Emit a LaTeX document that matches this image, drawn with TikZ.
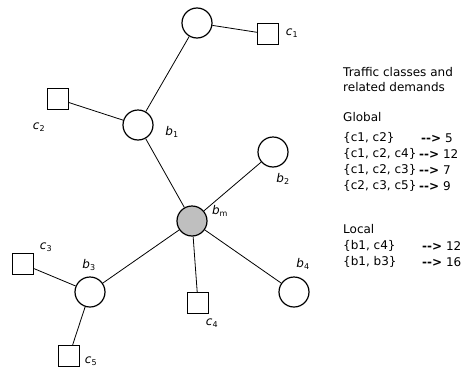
\documentclass[tikz,border=0pt]{standalone}
\usepackage{fontspec}
\setmainfont{DejaVu Sans}

\newcommand{\lab}[2]{\textit{#1}\textsubscript{#2}}

\begin{document}
\begin{tikzpicture}[x=1pt,y=-1pt,
    bnode/.style={draw,line width=1.2pt,circle,minimum size=30pt,inner sep=0pt},
    cnode/.style={draw,line width=1.2pt,rectangle,minimum size=21pt,inner sep=0pt},
    link/.style={line width=0.8pt},
    lbl/.style={font=\fontsize{12}{14}\selectfont,inner sep=0pt},
    txt/.style={anchor=west,font=\fontsize{12}{14}\selectfont,inner sep=0pt}]
        \useasboundingbox (0,0) rectangle (469,370);

        % Draw routers
        \node[bnode] (top) at (197,23) {};
        \node[bnode] (b1) at (138,125) {};
        \node[bnode] (b2) at (273,152) {};
        \node[bnode,fill=black!25] (bm) at (192,221) {};
        \node[bnode] (b3) at (90,292) {};
        \node[bnode] (b4) at (294,292) {};

        % Draw clients
        \node[cnode] (c1) at (268,34) {};
        \node[cnode] (c2) at (58,99) {};
        \node[cnode] (c3) at (23,264) {};
        \node[cnode] (c4) at (198,303) {};
        \node[cnode] (c5) at (69,356) {};

        % Draw links
        \draw[link] (top) -- (c1);
        \draw[link] (top) -- (b1);
        \draw[link] (b1) -- (c2);
        \draw[link] (b1) -- (bm);
        \draw[link] (b2) -- (bm);
        \draw[link] (bm) -- (b3);
        \draw[link] (bm) -- (c4);
        \draw[link] (bm) -- (b4);
        \draw[link] (b3) -- (c3);
        \draw[link] (b3) -- (c5);

        % Labels
        \node[lbl] (lc1) at (292,33) {\lab{c}{1}};
        \node[lbl] (lc2) at (39,127) {\lab{c}{2}};
        \node[lbl] (lb1) at (172,132) {\lab{b}{1}};
        \node[lbl] (lb2) at (283,179) {\lab{b}{2}};
        \node[lbl] (lbm) at (220,211) {\lab{b}{m}};
        \node[lbl] (lb3) at (89,265) {\lab{b}{3}};
        \node[lbl] (lb4) at (303,264) {\lab{b}{4}};
        \node[lbl] (lc3) at (46,247) {\lab{c}{3}};
        \node[lbl] (lc4) at (212,323) {\lab{c}{4}};
        \node[lbl] (lc5) at (91,361) {\lab{c}{5}};

        % Traffic classes
        \node[txt] (title1) at (343,72) {Traffic classes and};
        \node[txt] (title2) at (343,87) {related demands};
        \node[txt] (glob) at (343,117) {Global};
        \node[txt] (g1) at (343,138) {\{c1, c2\}};
        \node[txt] (g2) at (343,154) {\{c1, c2, c4\}};
        \node[txt] (g3) at (343,170) {\{c1, c2, c3\}};
        \node[txt] (g4) at (343,186) {\{c2, c3, c5\}};
        \node[txt] (loc) at (343,229) {Local};
        \node[txt] (l1) at (343,246) {\{b1, c4\}};
        \node[txt] (l2) at (343,262) {\{b1, b3\}};
        \node[txt] (dg1) at (421,138) {\textbf{-{}-{}>} 5};
        \node[txt] (dg2) at (419,154) {\textbf{-{}-{}>} 12};
        \node[txt] (dg3) at (419,170) {\textbf{-{}-{}>} 7};
        \node[txt] (dg4) at (419,186) {\textbf{-{}-{}>} 9};
        \node[txt] (dl1) at (422,246) {\textbf{-{}-{}>} 12};
        \node[txt] (dl2) at (422,262) {\textbf{-{}-{}>} 16};
    \end{tikzpicture}
\end{document}
